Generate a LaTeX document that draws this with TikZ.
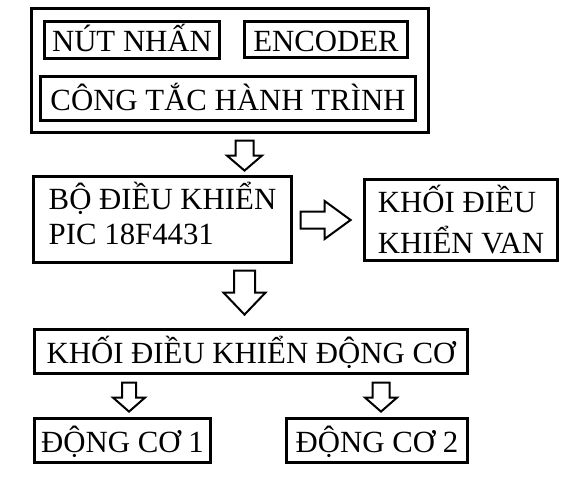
\documentclass[tikz,border=0pt]{standalone}
\usepackage{fontspec}
\setmainfont{Liberation Serif}
\usetikzlibrary{calc}

% mui ten rong: dinh, dai, nua than, nua dau, dai dau
\newcommand{\muitenxuong}[5]{%
	\draw[muiten] (#1) ++(-#3,0) -- ++(0,{#2-#5}) -- ++({#3-#4},0) -- ++(#4,#5)
		-- ++(#4,-#5) -- ++({#3-#4},0) -- ++(0,{#5-#2}) -- cycle;}
\newcommand{\muitenphai}[5]{%
	\draw[muiten] (#1) ++(0,-#3) -- ++({#2-#5},0) -- ++(0,{#3-#4}) -- ++(#5,#4)
		-- ++(-#5,#4) -- ++(0,{#3-#4}) -- ++({#5-#2},0) -- cycle;}

\begin{document}
\begin{tikzpicture}[x=1pt, y=-1pt,
	hop/.style={draw, line width=3.2pt, inner sep=0pt, font=\fontsize{30.8}{36}\selectfont,
		text height=23pt, text depth=0pt},
	muiten/.style={line width=2pt}]
\useasboundingbox (0,0) rectangle (577,479);
% Khoi dau vao
\node[hop, minimum width=397pt, minimum height=124pt] (khoivao) at (230,70.5) {};
\node[hop, minimum width=175pt, minimum height=37pt] (nutnhan) at (132,40) {NÚT NHẤN};
\node[hop, minimum width=163pt, minimum height=36pt] (encoder) at (326,39.5) {ENCODER};
\node[hop, minimum width=375pt, minimum height=44pt] (congtac) at (228,98.5) {CÔNG TẮC HÀNH TRÌNH};
% Bo dieu khien va khoi van
\node[hop, minimum width=258pt, minimum height=86pt, align=left,
	font=\fontsize{30.8}{34.5}\selectfont, text height=49pt, text depth=0pt]
	(bodk) at (162.5,219.5) {BỘ ĐIỀU KHIỂN\\PIC 18F4431};
\node[hop, minimum width=193pt, minimum height=81pt, align=left,
	font=\fontsize{30.8}{41}\selectfont, text height=66pt, text depth=0pt]
	(van) at (461,220) {KHỐI ĐIỀU\\KHIỂN VAN};
% Khoi dong co
\node[hop, minimum width=433pt, minimum height=44pt] (dongco) at (251,351.5) {KHỐI ĐIỀU KHIỂN ĐỘNG CƠ};
\node[hop, minimum width=176pt, minimum height=44pt] (dc1) at (122.5,440.5) {ĐỘNG CƠ 1};
\node[hop, minimum width=181pt, minimum height=44pt] (dc2) at (377,440.5) {ĐỘNG CƠ 2};
% Mui ten
\coordinate (m1) at (khoivao.south -| 244.5,0);
\coordinate (m2) at (bodk.south -| 244.5,0);
\coordinate (m3) at (dongco.south -| 129,0);
\coordinate (m4) at (dongco.south -| 381,0);
\coordinate (m5) at (bodk.east |- 0,220);
\muitenxuong{$(m1)+(0,6.5)$}{30}{9}{17.5}{15}
\muitenxuong{$(m2)+(0,6.5)$}{44}{10.5}{21}{22}
\muitenxuong{$(m3)+(0,7.5)$}{29}{7}{16}{14}
\muitenxuong{$(m4)+(0,7.5)$}{29}{8.5}{16}{14}
\muitenphai{$(m5)+(7.5,0)$}{50}{8.5}{19}{26}
\end{tikzpicture}
\end{document}
